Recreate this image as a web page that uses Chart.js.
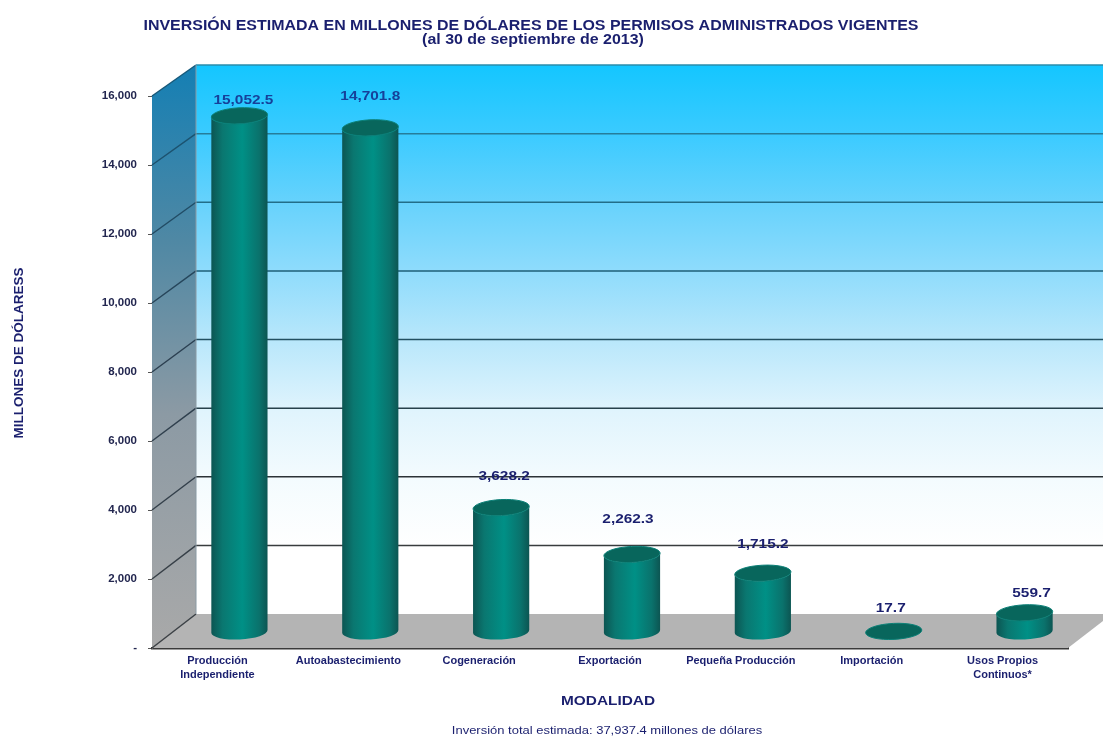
<!DOCTYPE html>
<html>
<head>
<meta charset="utf-8">
<title>Inversión estimada</title>
<script src="https://cdn.jsdelivr.net/npm/chart.js@4"></script>
<style>
  body { margin: 0; background: #fff; }
  canvas { display: block; filter: blur(0.4px); }
</style>
</head>
<body>
<canvas id="chart" width="1103" height="742"></canvas>
<script>
const categories = [
  ['Producción', 'Independiente'],
  'Autoabastecimiento',
  'Cogeneración',
  'Exportación',
  'Pequeña Producción',
  'Importación',
  ['Usos Propios', 'Continuos*']
];
const inversion = [15052.5, 14701.8, 3628.2, 2262.3, 1715.2, 17.7, 559.7];
const valueLabels = ['15,052.5', '14,701.8', '3,628.2', '2,262.3', '1,715.2', '17.7', '559.7'];

// depth of the fake 3d box, and where the cylinders stand inside it
const depthX = 44;
const depthY = 34;
const barShiftX = 22;
const barShiftY = 16;
const barScale = 0.994;
const capRy = 8;
const tilt = -0.05;
// label nudges, the original places them by hand
const labelLift = [17, 33, 32, 36, 30, 24, 21];
const labelNudge = [4, 0, 3, -4, 0, -3, 7];
// the source picture is stretched sideways, text is wider than the font
const stretch = 1.14;

const NAVY = '#1a1f6e';
const FONT = '"Liberation Sans", Arial, sans-serif';

function wideText(ctx, text, x, y) {
  ctx.save();
  ctx.translate(x, y);
  ctx.scale(stretch, 1);
  ctx.fillText(text, 0, 0);
  ctx.restore();
}

// draw the bars as cylinders, using the position the scales gave the element
Chart.BarElement.prototype.draw = function (ctx) {
  const cx = this.x + barShiftX;
  const rx = this.width / 2;
  const baseY = this.base - barShiftY;
  const topY = baseY - (this.base - this.y) * barScale;
  const g = ctx.createLinearGradient(cx - rx, 0, cx + rx, 0);
  g.addColorStop(0, '#0c5552');
  g.addColorStop(0.2, '#0a7770');
  g.addColorStop(0.55, '#009086');
  g.addColorStop(0.85, '#0a726c');
  g.addColorStop(1, '#0c5552');

  ctx.save();
  if (baseY - topY > 2) {
    ctx.fillStyle = g;
    ctx.beginPath();
    ctx.ellipse(cx, baseY, rx, capRy, tilt, 0, Math.PI);
    ctx.ellipse(cx, topY, rx, capRy, tilt, Math.PI, 0, true);
    ctx.closePath();
    ctx.fill();
  }
  ctx.fillStyle = '#08665c';
  ctx.strokeStyle = '#0b8077';
  ctx.lineWidth = 1;
  ctx.beginPath();
  ctx.ellipse(cx, topY, rx, capRy, tilt, 0, Math.PI * 2);
  ctx.fill();
  ctx.stroke();
  ctx.restore();
};

const box3d = {
  id: 'box3d',
  beforeDatasetsDraw(chart) {
    const { ctx, chartArea: a, scales } = chart;
    const y = scales.y;
    const right = a.right + depthX;
    const backLeft = a.left + depthX;
    const backTop = a.top - depthY + 3;
    const backBottom = a.bottom - depthY;

    ctx.save();
    // back wall
    let g = ctx.createLinearGradient(0, backTop, 0, backBottom);
    g.addColorStop(0, '#14c6ff');
    g.addColorStop(0.13, '#3ccbff');
    g.addColorStop(0.25, '#66d2fc');
    g.addColorStop(0.38, '#90dcfc');
    g.addColorStop(0.5, '#b8e7fb');
    g.addColorStop(0.63, '#e0f4fd');
    g.addColorStop(0.75, '#f3fbfe');
    g.addColorStop(0.88, '#ffffff');
    ctx.fillStyle = g;
    ctx.fillRect(backLeft, backTop, right - backLeft, backBottom - backTop);

    // side wall
    g = ctx.createLinearGradient(0, backTop, 0, a.bottom);
    g.addColorStop(0, '#147fb4');
    g.addColorStop(0.3, '#4f88a4');
    g.addColorStop(0.6, '#8c9aa4');
    g.addColorStop(1, '#a9a9a9');
    ctx.fillStyle = g;
    ctx.beginPath();
    ctx.moveTo(a.left, a.top);
    ctx.lineTo(backLeft, backTop);
    ctx.lineTo(backLeft, backBottom);
    ctx.lineTo(a.left, a.bottom);
    ctx.closePath();
    ctx.fill();

    // floor
    ctx.fillStyle = '#b4b4b4';
    ctx.beginPath();
    ctx.moveTo(a.left, a.bottom);
    ctx.lineTo(backLeft, backBottom);
    ctx.lineTo(right, backBottom);
    ctx.lineTo(a.right, a.bottom);
    ctx.closePath();
    ctx.fill();

    // grid lines go up the side wall and along the back
    g = ctx.createLinearGradient(0, backTop, 0, a.bottom);
    g.addColorStop(0, '#2a8cab');
    g.addColorStop(0.35, '#1d5f78');
    g.addColorStop(0.7, '#2b3236');
    g.addColorStop(1, '#4a4a4a');
    const side = ctx.createLinearGradient(0, backTop, 0, a.bottom);
    side.addColorStop(0, '#155a7c');
    side.addColorStop(0.5, '#2b3f50');
    side.addColorStop(1, '#3c4044');
    ctx.lineWidth = 1.5;
    y.ticks.forEach(t => {
      const py = y.getPixelForValue(t.value);
      const by = t.value === 16000 ? backTop : py - depthY + 3 * t.value / 16000;
      ctx.strokeStyle = side;
      ctx.beginPath();
      ctx.moveTo(a.left, py);
      ctx.lineTo(backLeft, by);
      ctx.stroke();
      if (t.value > 0) {
        ctx.strokeStyle = g;
        ctx.beginPath();
        ctx.moveTo(backLeft, by);
        ctx.lineTo(right, by);
        ctx.stroke();
      }
    });
    ctx.strokeStyle = '#8a9aa4';
    ctx.lineWidth = 1;
    ctx.beginPath();
    ctx.moveTo(backLeft, backTop);
    ctx.lineTo(backLeft, backBottom);
    ctx.stroke();
    ctx.restore();
  },
  afterDatasetsDraw(chart) {
    const { ctx } = chart;
    ctx.save();
    ctx.font = 'bold 13.5px ' + FONT;
    ctx.textAlign = 'center';
    ctx.textBaseline = 'middle';
    chart.getDatasetMeta(0).data.forEach((bar, i) => {
      const topY = bar.base - barShiftY - (bar.base - bar.y) * barScale;
      ctx.fillStyle = i < 2 ? '#16409a' : NAVY;
      wideText(ctx, valueLabels[i], bar.x + barShiftX + labelNudge[i], topY - labelLift[i] + 1);
    });
    ctx.restore();
  }
};

const chartTexts = {
  id: 'chartTexts',
  afterDraw(chart) {
    const { ctx } = chart;
    ctx.save();
    ctx.fillStyle = NAVY;
    ctx.textAlign = 'center';
    ctx.textBaseline = 'middle';
    ctx.font = 'bold 14px ' + FONT;
    wideText(ctx, 'INVERSIÓN ESTIMADA EN MILLONES DE DÓLARES DE LOS PERMISOS ADMINISTRADOS VIGENTES', 531, 26);
    wideText(ctx, '(al 30 de septiembre de 2013)', 533, 40);
    ctx.font = 'bold 13.5px ' + FONT;
    wideText(ctx, 'MODALIDAD', 608, 701);
    ctx.font = '11.4px ' + FONT;
    wideText(ctx, 'Inversión total estimada: 37,937.4 millones de dólares', 607, 731);
    ctx.font = 'bold 13.5px ' + FONT;
    ctx.translate(19, 353);
    ctx.rotate(-Math.PI / 2);
    ctx.fillText('MILLONES DE DÓLARESS', 0, 0);
    ctx.restore();
  }
};

new Chart(document.getElementById('chart'), {
  type: 'bar',
  data: {
    labels: categories,
    datasets: [{
      label: 'Inversión',
      data: inversion,
      barPercentage: 0.43,
      categoryPercentage: 1,
      clip: false
    }]
  },
  options: {
    responsive: false,
    animation: false,
    layout: { padding: { top: 96, right: 35, bottom: 34, left: 0 } },
    plugins: { legend: { display: false }, tooltip: { enabled: false } },
    scales: {
      x: {
        afterFit(scale) { scale.height = 60; },
        border: { color: '#3a3a3a', width: 2.5 },
        grid: { display: false, drawTicks: false },
        ticks: {
          color: NAVY,
          font: { family: FONT, size: 11, weight: 'bold', lineHeight: 1.3 },
          autoSkip: false,
          maxRotation: 0,
          padding: 6
        }
      },
      y: {
        min: 0,
        max: 16000,
        afterFit(scale) { scale.width = 152; },
        border: { color: '#6a6a6a', width: 1 },
        grid: { drawOnChartArea: false, color: '#555', tickLength: 4 },
        ticks: {
          stepSize: 2000,
          color: '#22264f',
          font: { family: FONT, size: 11.5, weight: 'bold' },
          padding: 11,
          callback: v => v === 0 ? '-' : v.toLocaleString('en-US')
        }
      }
    }
  },
  plugins: [box3d, chartTexts]
});
</script>
</body>
</html>
